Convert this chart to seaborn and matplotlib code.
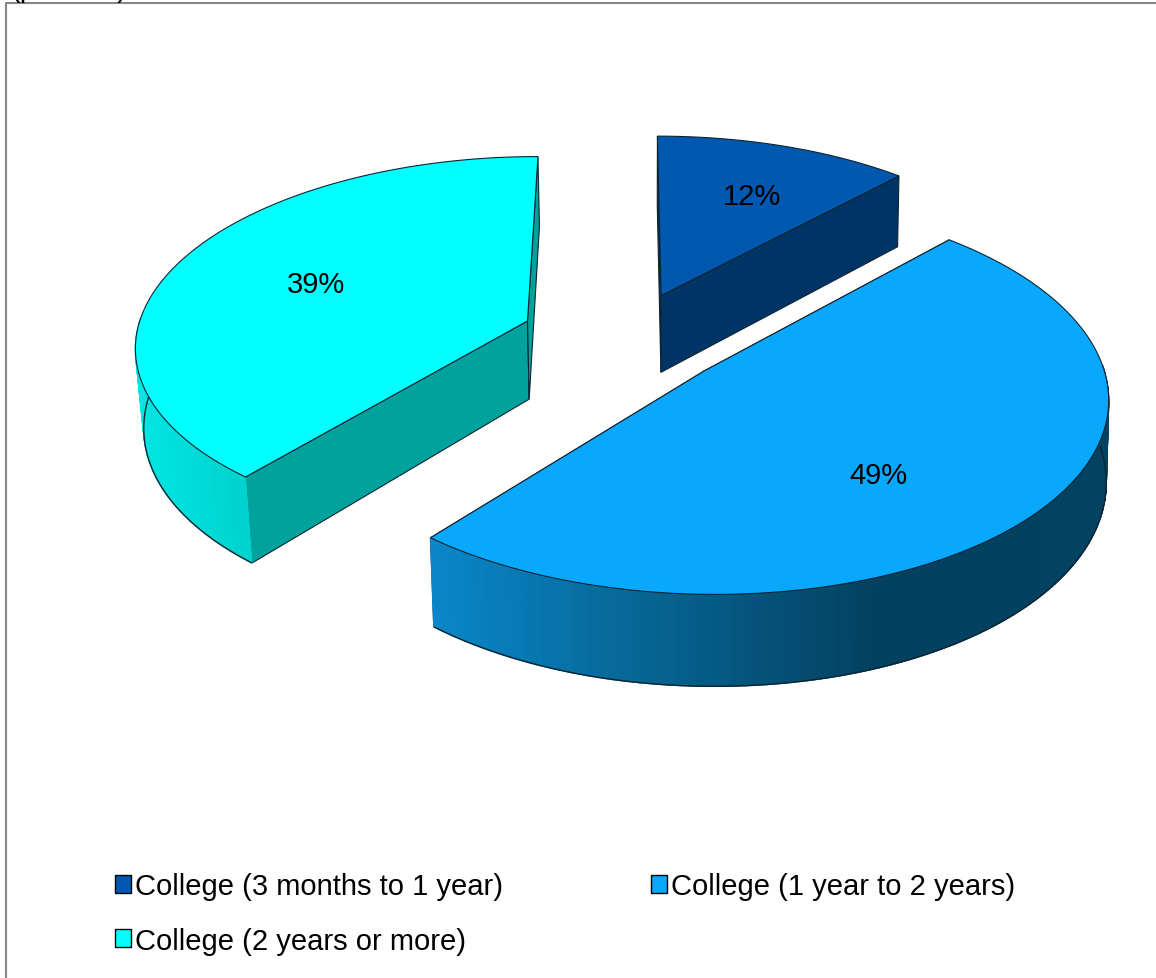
import numpy as np
import seaborn as sns
import matplotlib.pyplot as plt
from matplotlib.patches import Polygon, Patch

categories = ['College (3 months to 1 year)', 'College (1 year to 2 years)', 'College (2 years or more)']
shares = [12, 49, 39]
labels = ['12%', '49%', '39%']
top_colors = ['#0058b0', '#08a8ff', '#00ffff']
face_colors = ['#003366', '#054a70', '#00a29e']
wall_colors = [['#003366', '#003366'], ['#0a86c8', '#066391', '#044060', '#044262'], ['#00e6e2', '#00d2ce']]
explode = [0.25, 0.26, 0.27]
label_radius = [0.65, 0.635, 0.60]
label_turn = [2, 10, 0]

# rough 3d projection of the tilted pie, in pixels
CX, CY = 626, 339
RX, RY = 392, 188
DEPTH = 79
PERSP = 0.12


def project(px, py, drop=0):
    s = 1 / (1 + PERSP * py)
    x = CX + RX * px * s
    y = CY - RY * py * s
    if drop:
        # bottom rim sits a little closer in, more so on the left
        x = CX + (x - CX) * (0.983 if x < CX else 0.995)
        y = y + drop * s
    return x, y


def arc_points(angles, off, drop=0):
    t = np.radians(angles)
    return [project(off[0] + np.sin(a), off[1] + np.cos(a), drop) for a in t]


sns.set_theme(style='white')
plt.rcParams['font.family'] = ['Liberation Sans', 'DejaVu Sans']
plt.rcParams['text.color'] = 'black'

fig, ax = plt.subplots(figsize=(11.56, 9.79), dpi=100)
ax.set_position([0, 0, 1, 1])
ax.set_xlim(0, 1156)
ax.set_ylim(979, 0)
ax.axis('off')

edges = np.cumsum([0] + shares) * 3.6
mids = (edges[:-1] + edges[1:]) / 2
draw_order = [0, 2, 1]

for i in draw_order:
    a0, a1 = edges[i], edges[i + 1]
    m = np.radians(mids[i])
    off = (explode[i] * np.sin(m), explode[i] * np.cos(m))
    apex_t = project(off[0], off[1])
    apex_b = project(off[0], off[1], DEPTH)

    # cut faces
    for a in (a0, a1):
        r = np.radians(a)
        p_t = project(off[0] + np.sin(r), off[1] + np.cos(r))
        p_b = project(off[0] + np.sin(r), off[1] + np.cos(r), DEPTH)
        ax.add_patch(Polygon([apex_t, p_t, p_b, apex_b], fc=face_colors[i], ec='#0b2530', lw=0.8))

    angles = np.linspace(a0, a1, 200)
    top = arc_points(angles, off)

    # outer wall, only the front part shows
    front = angles[np.cos(np.radians(angles)) < 0.03]
    if len(front) > 1:
        wall_t = arc_points(front, off)
        wall_b = arc_points(front, off, DEPTH)
        xs = np.array([p[0] for p in wall_t])
        pal = sns.blend_palette(wall_colors[i], 60)
        for j in range(len(wall_t) - 1):
            u = (xs[j] - xs.min()) / (xs.max() - xs.min())
            c = pal[min(int(u * 60), 59)]
            ax.add_patch(Polygon([wall_t[j], wall_t[j + 1], wall_b[j + 1], wall_b[j]], fc=c, ec=c, lw=1.0))
        ax.add_patch(Polygon(wall_b, closed=False, fill=False, ec='#0b2530', lw=1.0))

    # top surface
    ax.add_patch(Polygon([apex_t] + top, fc=top_colors[i], ec='#0b2530', lw=0.8))

for i in range(len(shares)):
    m = np.radians(mids[i])
    off = (explode[i] * np.sin(m), explode[i] * np.cos(m))
    t = m + np.radians(label_turn[i])
    lx, ly = project(off[0] + label_radius[i] * np.sin(t), off[1] + label_radius[i] * np.cos(t))
    ax.text(lx, ly, labels[i], fontsize=21, color='black', ha='center', va='center')

# frame and cut off heading
ax.plot([1156, 6, 6], [4, 4, 979], color='#868686', lw=1.5)
ax.text(10, -11, '(percent)', fontsize=21, color='black', va='center')

order = [0, 2, 1]
handles = [Patch(fc=top_colors[i], ec='black', lw=1) for i in order]
ax.legend(handles, [categories[i] for i in order], ncol=2, loc='upper left', bbox_to_anchor=(0.0995, 0.108),
          frameon=False, fontsize=21, handlelength=0.55, handleheight=0.55,
          handletextpad=0.13, columnspacing=5.07, labelspacing=0.9, borderpad=0, borderaxespad=0)

plt.savefig('out.png', dpi=100)
